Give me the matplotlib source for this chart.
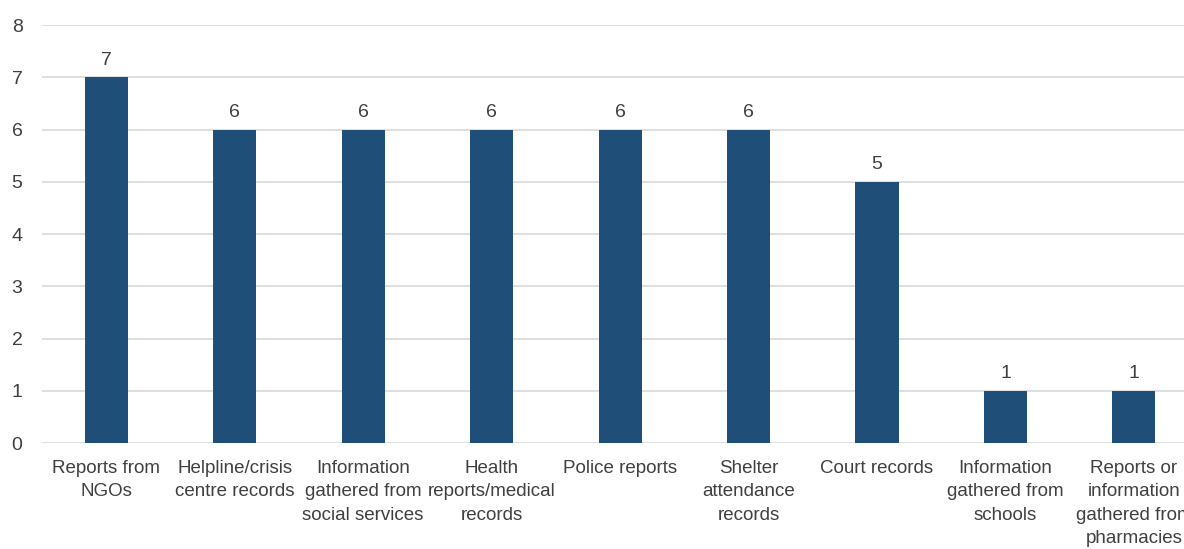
import matplotlib.pyplot as plt
from matplotlib import font_manager

names = {f.name for f in font_manager.fontManager.ttflist}
if "Liberation Sans Narrow" in names:
    plt.rcParams["font.family"] = ["Liberation Sans Narrow", "DejaVu Sans"]
else:
    plt.rcParams["font.family"] = ["Liberation Sans", "DejaVu Sans"]

categories = [
    "Reports from\nNGOs",
    "Helpline/crisis\ncentre records",
    "Information\ngathered from\nsocial services",
    "Health\nreports/medical\nrecords",
    "Police reports",
    "Shelter\nattendance\nrecords",
    "Court records",
    "Information\ngathered from\nschools",
    "Reports or\ninformation\ngathered from\npharmacies",
]
values = [7, 6, 6, 6, 6, 6, 5, 1, 1]

bar_color = "#1F4E79"
text_color = "#404040"

fig = plt.figure(figsize=(11.84, 5.49), dpi=100)
ax = fig.add_axes([0.0355, 0.193, 0.9645, 0.7614])

x = range(len(values))
bars = ax.bar(x, values, width=0.335, color=bar_color, zorder=3)

for b, v in zip(bars, values):
    ax.annotate(str(v), (b.get_x() + b.get_width() / 2, v), xytext=(0, 6),
                textcoords="offset points", ha="center", va="bottom",
                fontsize=14, color=text_color)

ax.set_ylim(0, 8)
ax.set_xlim(-0.5, 8.39)
ax.set_yticks(range(0, 9))
ax.set_xticks(list(x))
ax.set_xticklabels(categories, fontsize=13.5, color=text_color, linespacing=1.5, va="top")
ax.tick_params(axis="y", labelsize=14, labelcolor=text_color, length=0, pad=14)
ax.tick_params(axis="x", length=0, pad=12)
ax.grid(axis="y", color="#d9d9d9", linewidth=1.2, zorder=0)
for s in ax.spines.values():
    s.set_visible(False)

fig.savefig("out.png", dpi=100)
